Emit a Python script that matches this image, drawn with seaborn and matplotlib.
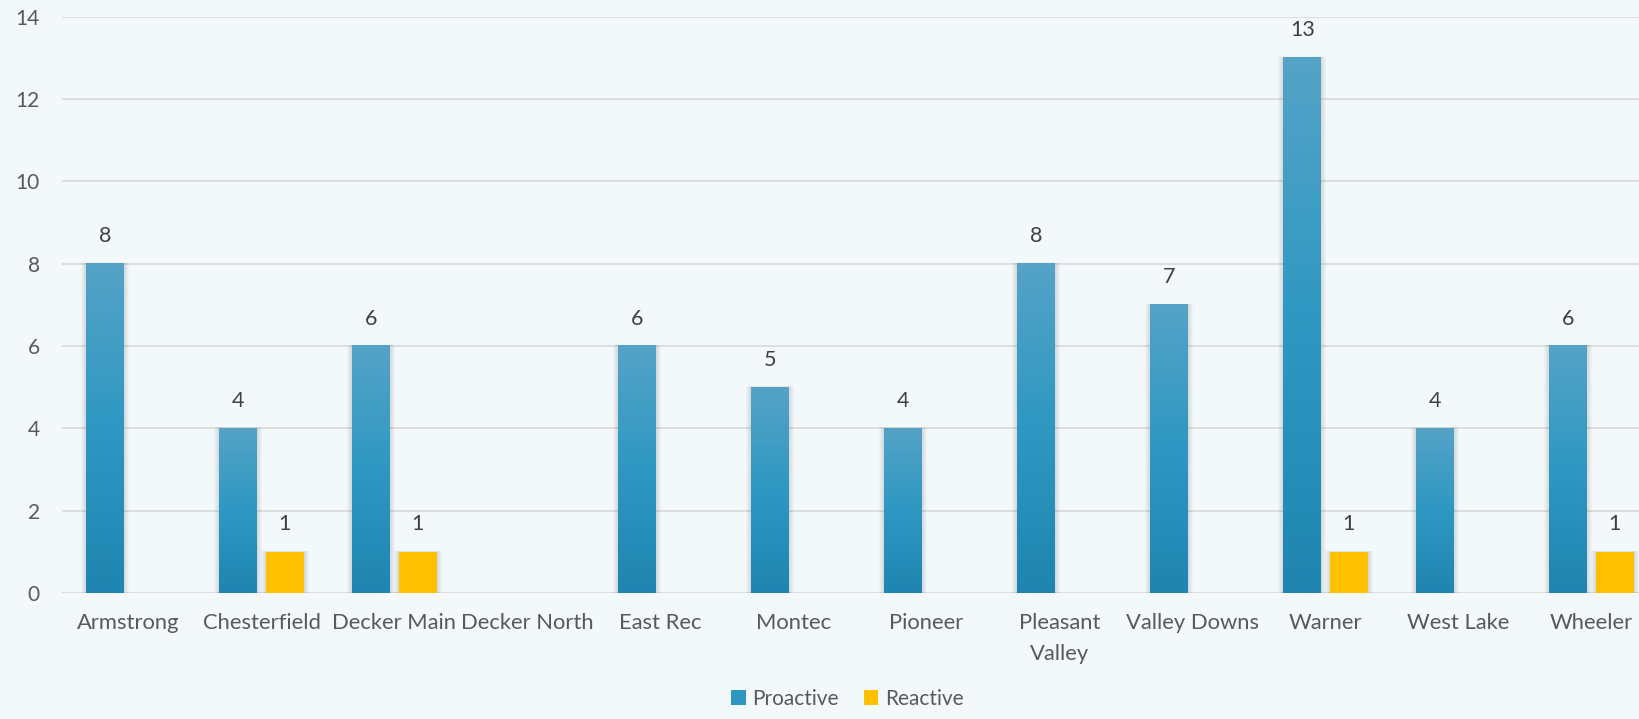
import numpy as np
import pandas as pd
import matplotlib
matplotlib.use("Agg")
import matplotlib.pyplot as plt
import seaborn as sns
from matplotlib.patches import Patch, Rectangle
from matplotlib.colors import LinearSegmentedColormap

categories = ["Armstrong", "Chesterfield", "Decker Main", "Decker North", "East Rec",
              "Montec", "Pioneer", "Pleasant\nValley", "Valley Downs", "Warner",
              "West Lake", "Wheeler"]
proactive = [8, 4, 6, 0, 6, 5, 4, 8, 7, 13, 4, 6]
reactive = [0, 1, 1, 0, 0, 0, 0, 0, 0, 1, 0, 1]
series = ["Proactive", "Reactive"]
yticks = [0, 2, 4, 6, 8, 10, 12, 14]

BG = "#f3f8fb"
PRO = "#2e97c1"
REA = "#ffc000"

sns.set_theme(style="white")
plt.rcParams["font.family"] = ["Lato", "DejaVu Sans"]

df = pd.DataFrame({
    "category": categories * 2,
    "value": proactive + reactive,
    "series": [series[0]] * len(categories) + [series[1]] * len(categories),
})

fig = plt.figure(figsize=(16.39, 7.19), dpi=100, facecolor=BG)
ax = fig.add_axes([62 / 1639, 126 / 719, (1658 - 62) / 1639, (593 - 16.5) / 719])
ax.set_facecolor(BG)

sns.barplot(data=df, x="category", y="value", hue="series", order=categories,
            hue_order=series, palette=[PRO, REA], width=0.695, gap=0.18,
            saturation=1, legend=False, ax=ax, zorder=3, edgecolor="none")

ax.set_xlim(-0.5, 11.5)
ax.set_ylim(0, 14)
ax.set_yticks(yticks)
ax.yaxis.grid(True, color="#d9d9d9", linewidth=1.2, zorder=0)
ax.set_axisbelow(True)
for s in ax.spines.values():
    s.set_visible(False)
ax.set_xlabel("")
ax.set_ylabel("")
ax.tick_params(axis="y", labelsize=15, labelcolor="#595959", pad=16, length=0)
ax.tick_params(axis="x", labelsize=15.8, labelcolor="#595959", pad=14.5, length=0)
for t in ax.get_xticklabels():
    t.set_linespacing(1.65)

# gradient + soft shadow on bars
cmap = LinearSegmentedColormap.from_list("pro", ["#1f85b0", "#2e98c2", "#55a3c7"])
grad = np.linspace(0, 1, 256).reshape(-1, 1)
px = 1 / 133.0
for ci, cont in enumerate(ax.containers):
    for p in cont.patches:
        h = p.get_height()
        if h <= 0:
            p.set_visible(False)
            continue
        x0, w = p.get_x(), p.get_width()
        for k in [5, 4, 3, 2, 1]:
            ax.add_patch(Rectangle((x0 - k * px, -k * 0.011), w + 2 * k * px,
                                   h + k * 0.011 + k * 0.006,
                                   facecolor="#000000", alpha=0.025, edgecolor="none",
                                   zorder=2))
        if ci == 0:
            ax.imshow(grad, cmap=cmap, origin="lower", aspect="auto",
                      extent=(x0, x0 + w, 0, h), zorder=3.5, interpolation="bicubic")

ax.set_xlim(-0.5, 11.5)
ax.set_ylim(0, 14)

for cont in ax.containers:
    labels = [f"{int(v)}" if v > 0 else "" for v in cont.datavalues]
    ax.bar_label(cont, labels=labels, padding=12.5, fontsize=15.5, color="#404040")

handles = [Patch(facecolor=PRO, edgecolor="none"), Patch(facecolor=REA, edgecolor="none")]
fig.legend(handles, series, loc="lower center", bbox_to_anchor=(0.517, -0.012), ncol=2,
           frameon=False, fontsize=15, labelcolor="#595959", handlelength=0.7,
           handleheight=0.7, handletextpad=0.3, columnspacing=1.2)

fig.savefig("out.png", dpi=100, facecolor=BG)
